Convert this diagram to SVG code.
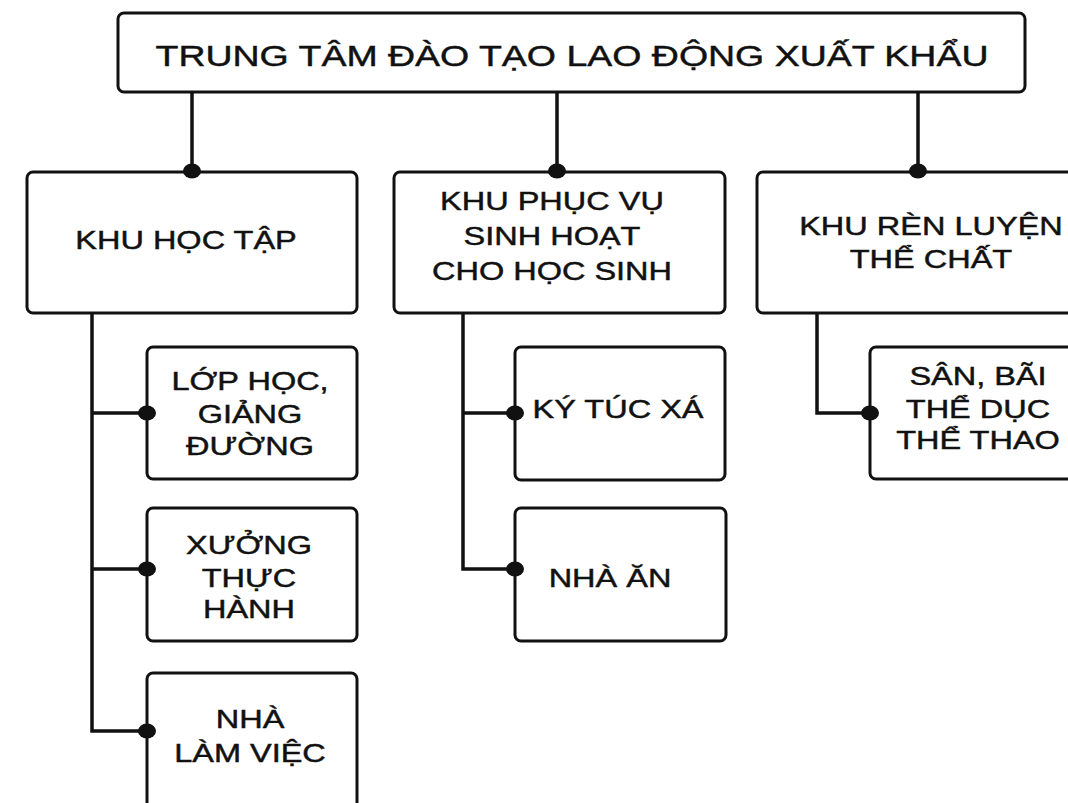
<svg xmlns="http://www.w3.org/2000/svg" width="1068" height="803" viewBox="0 0 1068 803">
<style>
.box{fill:#fff;stroke:#111;stroke-width:3}
.ln{fill:none;stroke:#111;stroke-width:3.5;stroke-linejoin:miter}
.dot{fill:#111}
text{font-family:"Liberation Sans",Arial,sans-serif;font-size:25px;fill:#111;stroke:#111;stroke-width:0.45;text-anchor:middle}
.title{font-size:30px}
</style>
<rect width="1068" height="803" fill="#fff"/>
<g id="connectors">
<path class="ln" d="M192,92V171M557,92V171M918,92V171"/>
<path class="ln" d="M92,313V731H147M92,413H147M92,569H147"/>
<path class="ln" d="M463,313V569H515M463,413H515"/>
<path class="ln" d="M817,313V413H870"/>
</g>
<g id="root">
<rect class="box" x="118" y="13" width="907" height="79" rx="6"/>
<g transform="translate(572 0) scale(1.25 1)"><text class="title" x="0" y="66">TRUNG TÂM ĐÀO TẠO LAO ĐỘNG XUẤT KHẨU</text></g>
</g>
<g id="khu-hoc-tap">
<rect class="box" x="27" y="172" width="330" height="141" rx="6"/>
<g transform="translate(186 0) scale(1.3 1)"><text x="0" y="249">KHU HỌC TẬP</text></g>
</g>
<g id="khu-phuc-vu">
<rect class="box" x="394" y="172" width="331" height="141" rx="6"/>
<g transform="translate(552 0) scale(1.3 1)"><text x="0" y="210">KHU PHỤC VỤ</text><text x="0" y="245">SINH HOẠT</text><text x="0" y="280">CHO HỌC SINH</text></g>
</g>
<g id="khu-ren-luyen">
<rect class="box" x="757" y="172" width="330" height="141" rx="6"/>
<g transform="translate(931 0) scale(1.3 1)"><text x="0" y="235">KHU RÈN LUYỆN</text><text x="0" y="268">THỂ CHẤT</text></g>
</g>
<g id="lop-hoc">
<rect class="box" x="147" y="347" width="210" height="132" rx="6"/>
<g transform="translate(250 0) scale(1.3 1)"><text x="0" y="390">LỚP HỌC,</text><text x="0" y="423">GIẢNG</text><text x="0" y="455">ĐƯỜNG</text></g>
</g>
<g id="xuong">
<rect class="box" x="147" y="508" width="210" height="133" rx="6"/>
<g transform="translate(249 0) scale(1.3 1)"><text x="0" y="554">XƯỞNG</text><text x="0" y="587">THỰC</text><text x="0" y="618">HÀNH</text></g>
</g>
<g id="nha-lam-viec">
<rect class="box" x="147" y="673" width="210" height="150" rx="6"/>
<g transform="translate(250 0) scale(1.3 1)"><text x="0" y="728">NHÀ</text><text x="0" y="762">LÀM VIỆC</text></g>
</g>
<g id="ky-tuc-xa">
<rect class="box" x="515" y="347" width="210" height="133" rx="6"/>
<g transform="translate(618 0) scale(1.3 1)"><text x="0" y="418">KÝ TÚC XÁ</text></g>
</g>
<g id="nha-an">
<rect class="box" x="515" y="508" width="211" height="133" rx="6"/>
<g transform="translate(610 0) scale(1.3 1)"><text x="0" y="587">NHÀ ĂN</text></g>
</g>
<g id="san-bai">
<rect class="box" x="870" y="347" width="220" height="132" rx="6"/>
<g transform="translate(978 0) scale(1.3 1)"><text x="0" y="385">SÂN, BÃI</text><text x="0" y="418">THỂ DỤC</text><text x="0" y="449">THỂ THAO</text></g>
</g>
<g id="dots">
<ellipse class="dot" cx="192" cy="171" rx="9" ry="7.5"/>
<ellipse class="dot" cx="557" cy="171" rx="9" ry="7.5"/>
<ellipse class="dot" cx="918" cy="171" rx="9" ry="7.5"/>
<ellipse class="dot" cx="147" cy="413" rx="9" ry="7.5"/>
<ellipse class="dot" cx="147" cy="569" rx="9" ry="7.5"/>
<ellipse class="dot" cx="147" cy="731" rx="9" ry="7.5"/>
<ellipse class="dot" cx="515" cy="413" rx="9" ry="7.5"/>
<ellipse class="dot" cx="515" cy="569" rx="9" ry="7.5"/>
<ellipse class="dot" cx="870" cy="413" rx="9" ry="7.5"/>
</g>
</svg>
